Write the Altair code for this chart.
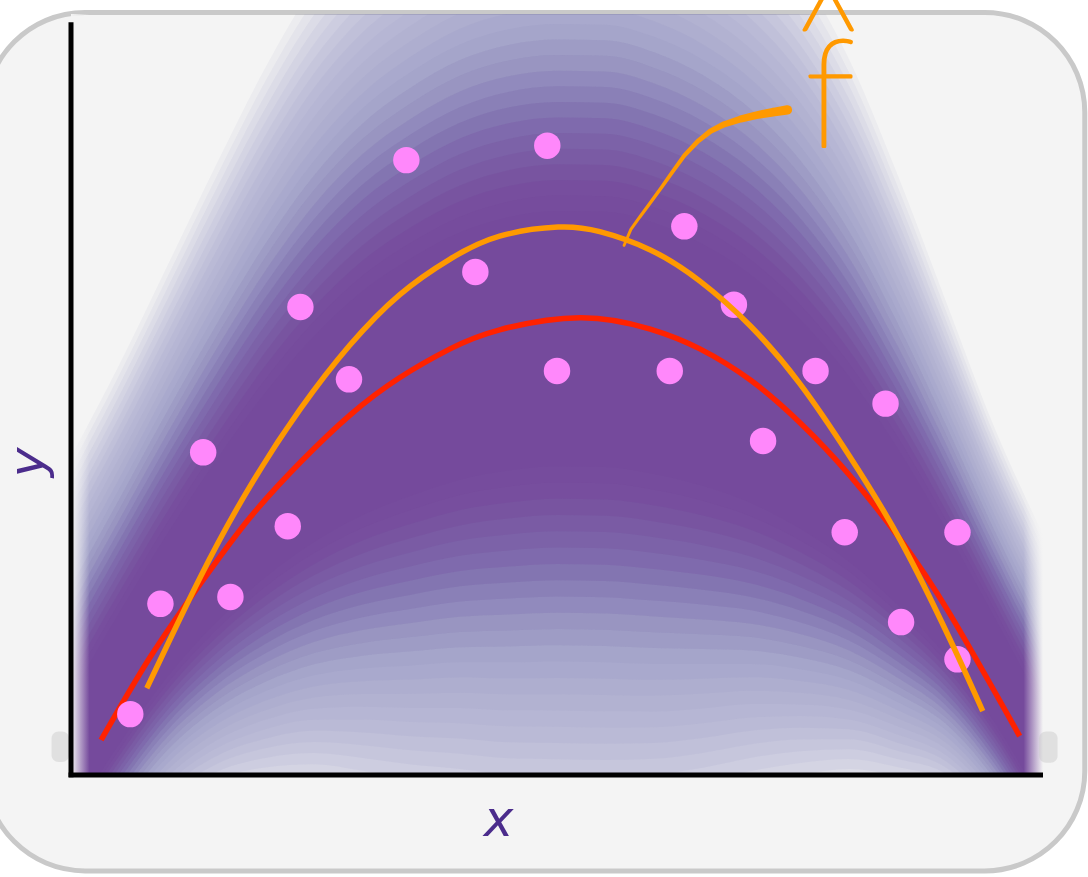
import altair as alt
import pandas as pd

# ---------------- data ----------------
# noisy observations
obs_x = [0.61, 0.92, 1.36, 1.64, 2.23, 2.36, 2.86, 3.45, 4.16, 4.90, 5.00,
         6.16, 6.31, 6.82, 7.12, 7.66, 7.96, 8.38, 8.54, 9.12, 9.12]
obs_y = [0.80, 2.25, 4.24, 2.34, 3.27, 6.15, 5.20, 8.08, 6.61, 8.27, 5.31,
         5.31, 7.21, 6.18, 4.39, 5.31, 3.19, 4.88, 2.01, 3.19, 1.52]

# true function (red)
true_x = [0.31, 0.81, 1.33, 1.84, 2.36, 2.87, 3.38, 3.90, 4.41, 5.24,
          5.96, 6.47, 6.99, 7.50, 8.01, 8.53, 9.04, 9.76]
true_y = [0.46, 1.54, 2.51, 3.38, 4.11, 4.73, 5.22, 5.60, 5.85, 6.01,
          5.86, 5.60, 5.19, 4.63, 3.94, 3.10, 2.12, 0.51]

# fitted function f-hat (orange)
fit_x = [0.78, 1.33, 1.84, 2.36, 2.87, 3.38, 3.90, 4.41, 5.01,
         5.44, 5.96, 6.47, 6.99, 7.50, 8.01, 8.53, 9.04, 9.38]
fit_y = [1.14, 2.60, 3.79, 4.81, 5.65, 6.31, 6.78, 7.08, 7.20,
         7.14, 6.90, 6.49, 5.90, 5.14, 4.19, 3.09, 1.79, 0.84]

# predictive density: centre and spread above / below the centre
band_x = [0.0, 0.5, 1.0, 1.5, 2.0, 2.5, 3.0, 3.5, 4.0, 4.5, 5.0,
          5.5, 6.0, 6.5, 7.0, 7.5, 8.0, 8.5, 9.0, 9.5, 10.0]
band_mid = [-0.01, 1.05, 2.01, 2.85, 3.60, 4.23, 4.76, 5.16, 5.48, 5.68, 5.77,
            5.76, 5.62, 5.36, 4.98, 4.47, 3.85, 3.10, 2.23, 1.24, 0.12]
band_sd_up = [1.31, 1.36, 1.47, 1.62, 1.78, 1.92, 2.00, 2.04, 2.06, 2.06, 2.05,
              2.05, 2.04, 2.02, 1.98, 1.90, 1.74, 1.50, 1.25, 1.04, 0.95]
band_sd_lo = [0.72, 0.79, 0.88, 1.04, 1.25, 1.46, 1.68, 1.86, 2.00, 2.10, 2.14,
              2.14, 2.08, 1.95, 1.76, 1.54, 1.30, 1.07, 0.82, 0.68, 0.63]

# shading: (multiple of spread, accumulated opacity inside it), outermost first
haze_levels = [(3.2, 0.07), (3.1, 0.14), (3.0, 0.21), (2.9, 0.28), (2.8, 0.34),
               (2.7, 0.40), (2.6, 0.45), (2.5, 0.50), (2.4, 0.54), (2.3, 0.58),
               (2.2, 0.62), (2.1, 0.66), (2.0, 0.70), (1.9, 0.74), (1.8, 0.78),
               (1.7, 0.82), (1.6, 0.86), (1.5, 0.89), (1.4, 0.92), (1.3, 0.95)]
core_levels = [(1.9, 0.05), (1.8, 0.10), (1.7, 0.17), (1.6, 0.26), (1.5, 0.37),
               (1.4, 0.49), (1.3, 0.61), (1.2, 0.72), (1.1, 0.82), (1.0, 0.90),
               (0.9, 0.95), (0.8, 0.98)]
HAZE = "#8787be"
CORE = "#75499b"

# hand-drawn leader from the label down to the fitted curve
lead_x = [5.69, 5.76, 5.85, 5.96, 6.08, 6.19, 6.31, 6.45, 6.58, 6.72,
          6.89, 7.05, 7.22, 7.37]
lead_y = [6.96, 7.17, 7.33, 7.52, 7.73, 7.93, 8.14, 8.33, 8.46, 8.55,
          8.62, 8.67, 8.71, 8.74]
lead_w = [2.8, 3.0, 3.2, 3.4, 3.6, 3.9, 4.2, 4.7, 5.4, 6.2,
          7.0, 7.8, 8.6, 9.4]

# card behind the plot and axis extents
card_x = [-0.885, 10.43]
card_y = [-1.26, 10.02]
axis_top = 9.89

PURPLE_TEXT = "#4b2c8c"
ORANGE = "#ff9900"
RED = "#ff2200"
PINK = "#ff88fb"
CARD = "#f4f4f4"

XS = alt.Scale(domain=[0, 10], nice=False, zero=False)
YS = alt.Scale(domain=[0, 10], nice=False, zero=False)

TITLE_STYLE = dict(domain=False, ticks=False, labels=False, grid=False, zindex=2,
                   titleFont="DejaVu Sans", titleFontSize=50, titleFontStyle="italic",
                   titleFontWeight="normal", titleColor=PURPLE_TEXT,
                   titleAlign="center", titleBaseline="middle")
X_AXIS = alt.Axis(titleX=427, titleY=45, titleAngle=0, **TITLE_STYLE)
Y_AXIS = alt.Axis(titleX=-43, titleY=448, titleAngle=270, **TITLE_STYLE)


def xq(f):
    return alt.X(f"{f}:Q", scale=XS, title="x", axis=X_AXIS)


def yq(f):
    return alt.Y(f"{f}:Q", scale=YS, title="y", axis=Y_AXIS)


def layer_opacities(levels):
    """Per-layer opacity so that stacked layers reach the listed totals."""
    out, prev = [], 0.0
    for k, total in levels:
        out.append((k, 1 - (1 - total) / (1 - prev)))
        prev = total
    return out


def box(x0, x1, y0, y1):
    return pd.DataFrame({"x": x0, "x2": x1, "y": y0, "y2": y1})


# ---------------- layers ----------------
card = alt.Chart(box([card_x[0]], [card_x[1]], [card_y[0]], [card_y[1]])).mark_rect(
    fill=CARD, stroke="#c9c9c9", strokeWidth=5, cornerRadius=100
).encode(x=xq("x"), x2="x2:Q", y=yq("y"), y2="y2:Q")

band_df = pd.DataFrame({"x": band_x, "mid": band_mid,
                        "up": band_sd_up, "lo": band_sd_lo})
bands = []
for levels, colour in ((haze_levels, HAZE), (core_levels, CORE)):
    for k, op in layer_opacities(levels):
        bands.append(
            alt.Chart(band_df)
            .transform_calculate(y=f"datum.mid - {k} * datum.lo",
                                 y2=f"datum.mid + {k} * datum.up")
            .mark_area(color=colour, opacity=round(op, 4), clip=True,
                       interpolate="monotone")
            .encode(x=xq("x"), y=yq("y"), y2="y2:Q")
        )

fade_left = alt.Chart(box([0.0], [0.19], [0.0], [10.0])).mark_rect(
    clip=True,
    fill=alt.Gradient(gradient="linear", x1=0, x2=1, y1=0, y2=0,
                      stops=[alt.GradientStop(color=CARD, offset=0),
                             alt.GradientStop(color="rgba(244,244,244,0)", offset=1)]),
).encode(x=xq("x"), x2="x2:Q", y=yq("y"), y2="y2:Q")

fade_right = alt.Chart(box([9.80], [10.0], [0.0], [9.3])).mark_rect(
    clip=True,
    fill=alt.Gradient(gradient="linear", x1=0, x2=1, y1=0, y2=0,
                      stops=[alt.GradientStop(color="rgba(244,244,244,0)", offset=0),
                             alt.GradientStop(color=CARD, offset=1)]),
).encode(x=xq("x"), x2="x2:Q", y=yq("y"), y2="y2:Q")

smudges = alt.Chart(box([-0.20, 9.96], [-0.02, 10.15], [0.17, 0.16], [0.57, 0.57])).mark_rect(
    fill="#c8c8c8", opacity=0.45, cornerRadius=7
).encode(x=xq("x"), x2="x2:Q", y=yq("y"), y2="y2:Q")

axis_lines = alt.Chart(box([0.0, -0.025], [0.0, 10.0], [-0.03, 0.0], [axis_top, 0.0])).mark_rule(
    color="black", strokeWidth=5
).encode(x=xq("x"), x2="x2:Q", y=yq("y"), y2="y2:Q")

true_line = alt.Chart(pd.DataFrame({"x": true_x, "y": true_y})).mark_line(
    color=RED, strokeWidth=5.5, interpolate="natural", strokeCap="butt"
).encode(x=xq("x"), y=yq("y"))

dots = alt.Chart(pd.DataFrame({"x": obs_x, "y": obs_y})).mark_circle(
    color=PINK, opacity=1, size=700
).encode(x=xq("x"), y=yq("y"))

fit_line = alt.Chart(pd.DataFrame({"x": fit_x, "y": fit_y})).mark_line(
    color=ORANGE, strokeWidth=5.5, interpolate="natural", strokeCap="butt"
).encode(x=xq("x"), y=yq("y"))

leader = alt.Chart(pd.DataFrame({"x": lead_x, "y": lead_y, "w": lead_w})).mark_trail(
    color=ORANGE
).encode(x=xq("x"), y=yq("y"), size=alt.Size("w:Q", scale=None, legend=None))

# pen-weight label: a thin face with an outline of the same colour
label_f = alt.Chart(pd.DataFrame({"x": [7.81], "y": [8.25], "t": ["f"]})).mark_text(
    color=ORANGE, stroke=ORANGE, strokeWidth=3, strokeJoin="round",
    font="Lato", fontWeight=200, fontSize=150, align="center", baseline="alphabetic"
).encode(x=xq("x"), y=yq("y"), text="t:N")

label_hat = alt.Chart(pd.DataFrame({"x": [7.79], "y": [9.16], "t": ["^"]})).mark_text(
    color=ORANGE, stroke=ORANGE, strokeWidth=3, strokeJoin="round",
    font="Lato", fontWeight=200, fontSize=130, align="center", baseline="alphabetic"
).encode(x=xq("x"), y=yq("y"), text="t:N")

chart = alt.layer(
    card, *bands, fade_left, fade_right, smudges, axis_lines,
    true_line, dots, fit_line, leader, label_f, label_hat
).properties(
    width=972, height=761,
    autosize=alt.AutoSizeParams(type="none"),
    padding={"left": 71, "top": 14, "right": 45, "bottom": 102},
    background="white",
).configure_view(
    strokeWidth=0
)

chart.save("out.html", embed_options={"renderer": "svg", "actions": False})
